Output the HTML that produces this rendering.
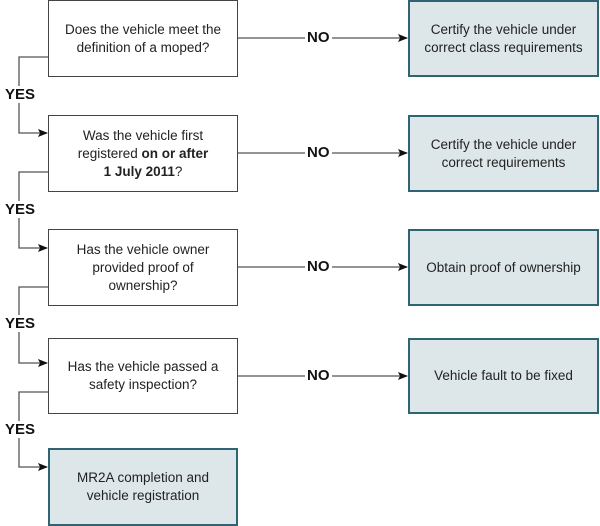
<!DOCTYPE html>
<html><head><style>
body{margin:0;width:600px;height:526px;background:#fff;position:relative;font-family:"Liberation Sans",sans-serif;overflow:hidden}
.b{position:absolute;box-sizing:border-box;display:flex;align-items:center;justify-content:center;text-align:center;font-size:13.5px;line-height:18px;color:#222}
.q{left:48px;width:190px;border:1.5px solid #444;background:#fff}
.a{left:408px;width:191px;border:2px solid #2e6473;background:#dde6e9}
.l{position:absolute;font-weight:bold;font-size:15px;color:#111;background:#fff}
</style></head><body>
<svg width="600" height="526" style="position:absolute;left:0;top:0">
<defs><marker id="ar" markerWidth="10" markerHeight="8" refX="9" refY="4" orient="auto" markerUnits="userSpaceOnUse"><path d="M0,0 L10,4 L0,8 L2,4z" fill="#111"/></marker></defs>
<g stroke="#555" stroke-width="1.3" fill="none">
<path d="M238 38 H407" marker-end="url(#ar)"/>
<path d="M238 153 H407" marker-end="url(#ar)"/>
<path d="M238 267 H407" marker-end="url(#ar)"/>
<path d="M238 376 H407" marker-end="url(#ar)"/>
<path d="M48 57 H19 V133 H47" marker-end="url(#ar)"/>
<path d="M48 172 H19 V248 H47" marker-end="url(#ar)"/>
<path d="M48 287 H19 V363 H47" marker-end="url(#ar)"/>
<path d="M48 392 H19 V467 H47" marker-end="url(#ar)"/>
</g></svg>
<div class="b q" style="top:0;height:77px"><span>Does the vehicle meet the<br>definition of a moped?</span></div>
<div class="b q" style="top:115px;height:77px"><span>Was the vehicle first<br>registered <b>on or after</b><br><b>1 July 2011</b>?</span></div>
<div class="b q" style="top:229px;height:77px"><span>Has the vehicle owner<br>provided proof of<br>ownership?</span></div>
<div class="b q" style="top:338px;height:76px"><span>Has the vehicle passed a<br>safety inspection?</span></div>
<div class="b a" style="left:48px;width:190px;top:448px;height:78px"><span>MR2A completion and<br>vehicle registration</span></div>
<div class="b a" style="top:0;height:77px"><span>Certify the vehicle under<br>correct class requirements</span></div>
<div class="b a" style="top:115px;height:77px"><span>Certify the vehicle under<br>correct requirements</span></div>
<div class="b a" style="top:229px;height:77px"><span>Obtain proof of ownership</span></div>
<div class="b a" style="top:338px;height:76px"><span>Vehicle fault to be fixed</span></div>
<div class="l" style="left:305px;top:29px;padding:0 2px">NO</div>
<div class="l" style="left:305px;top:144px;padding:0 2px">NO</div>
<div class="l" style="left:305px;top:258px;padding:0 2px">NO</div>
<div class="l" style="left:305px;top:367px;padding:0 2px">NO</div>
<div class="l" style="left:5px;top:86px">YES</div>
<div class="l" style="left:5px;top:201px">YES</div>
<div class="l" style="left:5px;top:315px">YES</div>
<div class="l" style="left:5px;top:421px">YES</div>
</body></html>
